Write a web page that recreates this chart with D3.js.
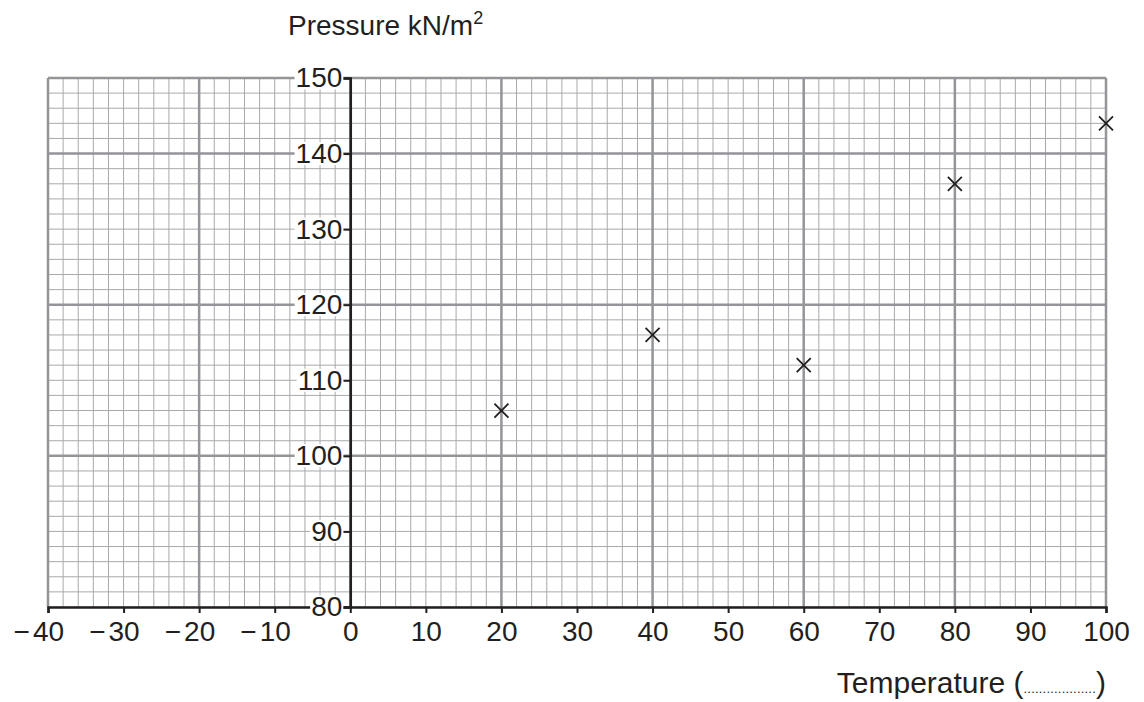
<!DOCTYPE html>
<html>
<head>
<meta charset="utf-8">
<script src="https://cdn.jsdelivr.net/npm/d3@7"></script>
<style>
  body { margin: 0; background: #fff; }
  text { font-family: "Liberation Sans", Arial, sans-serif; fill: #231f20; }
</style>
</head>
<body>
<script>
// data
var temps = [20, 40, 60, 80, 100];
var pressures = [106, 116, 112, 136, 144];
var xTicks = [-40, -30, -20, -10, 0, 10, 20, 30, 40, 50, 60, 70, 80, 90, 100];
var yTicks = [80, 90, 100, 110, 120, 130, 140, 150];

var width = 1144, height = 702;

var svg = d3.select("body").append("svg")
    .attr("width", width)
    .attr("height", height);

var x = d3.scaleLinear().domain([-40, 100]).range([48, 1106]);
var y = d3.scaleLinear().domain([80, 150]).range([607, 78]);

// minor grid, every 2 units
var minorX = d3.range(-40, 101, 2);
var minorY = d3.range(80, 151, 2);

svg.append("g").selectAll("line")
    .data(minorX)
    .enter().append("line")
    .attr("x1", d => x(d)).attr("x2", d => x(d))
    .attr("y1", y(80)).attr("y2", y(150))
    .attr("stroke", "#a7a9ac")
    .attr("stroke-width", 1);

svg.append("g").selectAll("line")
    .data(minorY)
    .enter().append("line")
    .attr("y1", d => y(d)).attr("y2", d => y(d))
    .attr("x1", x(-40)).attr("x2", x(100))
    .attr("stroke", "#a7a9ac")
    .attr("stroke-width", 1);

// major grid, every 20 units
svg.append("g").selectAll("line")
    .data(d3.range(-40, 101, 20))
    .enter().append("line")
    .attr("x1", d => x(d)).attr("x2", d => x(d))
    .attr("y1", y(80)).attr("y2", y(150))
    .attr("stroke", "#939598")
    .attr("stroke-width", 2.5);

svg.append("g").selectAll("line")
    .data([100, 120, 140, 150])
    .enter().append("line")
    .attr("y1", d => y(d)).attr("y2", d => y(d))
    .attr("x1", x(-40)).attr("x2", x(100))
    .attr("stroke", "#939598")
    .attr("stroke-width", 2.5);

// x axis along y = 80, digits centred on the tick, minus sign hung to the left
var xAxis = svg.append("g")
    .attr("transform", "translate(0," + y(80) + ")")
    .call(d3.axisBottom(x).tickValues(xTicks).tickSize(6).tickPadding(8)
        .tickFormat(d => Math.abs(d)));
xAxis.select(".domain").attr("stroke", "#231f20").attr("stroke-width", 2.5);
xAxis.selectAll(".tick line").attr("stroke", "#231f20").attr("stroke-width", 2);
xAxis.selectAll("text").attr("font-size", 28).attr("fill", "#231f20")
    .attr("font-family", "Liberation Sans, Arial, sans-serif");
xAxis.selectAll(".tick").filter(d => d < 0).each(function() {
  var t = d3.select(this).select("text");
  var b = t.node().getBBox();
  d3.select(this).append("text")
    .attr("x", b.x - 3).attr("y", t.attr("y")).attr("dy", t.attr("dy"))
    .attr("text-anchor", "end")
    .attr("font-size", 28).attr("fill", "#231f20")
    .attr("font-family", "Liberation Sans, Arial, sans-serif")
    .text("\u2212");
});

// y axis along x = 0
var yAxis = svg.append("g")
    .attr("transform", "translate(" + x(0) + ",0)")
    .call(d3.axisLeft(y).tickValues(yTicks).tickSize(7).tickPadding(1));
yAxis.select(".domain").attr("stroke", "#231f20").attr("stroke-width", 2.5);
yAxis.selectAll(".tick line").attr("stroke", "#231f20").attr("stroke-width", 2);
yAxis.selectAll("text").attr("font-size", 28).attr("fill", "#231f20")
    .attr("font-family", "Liberation Sans, Arial, sans-serif");
// white box behind the y labels, like on the paper
yAxis.selectAll(".tick").each(function() {
  var t = d3.select(this).select("text");
  var b = t.node().getBBox();
  d3.select(this).insert("rect", "text")
    .attr("x", b.x - 1).attr("y", b.y + 4)
    .attr("width", b.width + 2).attr("height", b.height - 8)
    .attr("fill", "#fff");
});

// crosses
var s = 7;
svg.append("g").selectAll("path")
    .data(temps.map((t, i) => [t, pressures[i]]))
    .enter().append("path")
    .attr("d", d => {
      var cx = x(d[0]), cy = y(d[1]);
      return "M" + (cx - s) + "," + (cy - s) + "L" + (cx + s) + "," + (cy + s) +
             "M" + (cx - s) + "," + (cy + s) + "L" + (cx + s) + "," + (cy - s);
    })
    .attr("stroke", "#231f20")
    .attr("stroke-width", 1.8)
    .attr("fill", "none");

// axis titles
var yt = svg.append("text")
    .attr("x", 288).attr("y", 35)
    .attr("font-size", 28);
yt.append("tspan").text("Pressure kN/m");
yt.append("tspan").attr("font-size", 18).attr("dy", -11).text("2");

var xt = svg.append("text")
    .attr("x", 1106).attr("y", 693)
    .attr("text-anchor", "end")
    .attr("font-size", 30);
xt.append("tspan").text("Temperature (");
xt.append("tspan").attr("font-size", 13).attr("letter-spacing", 0.2).text("...................");
xt.append("tspan").text(")");
</script>
</body>
</html>
